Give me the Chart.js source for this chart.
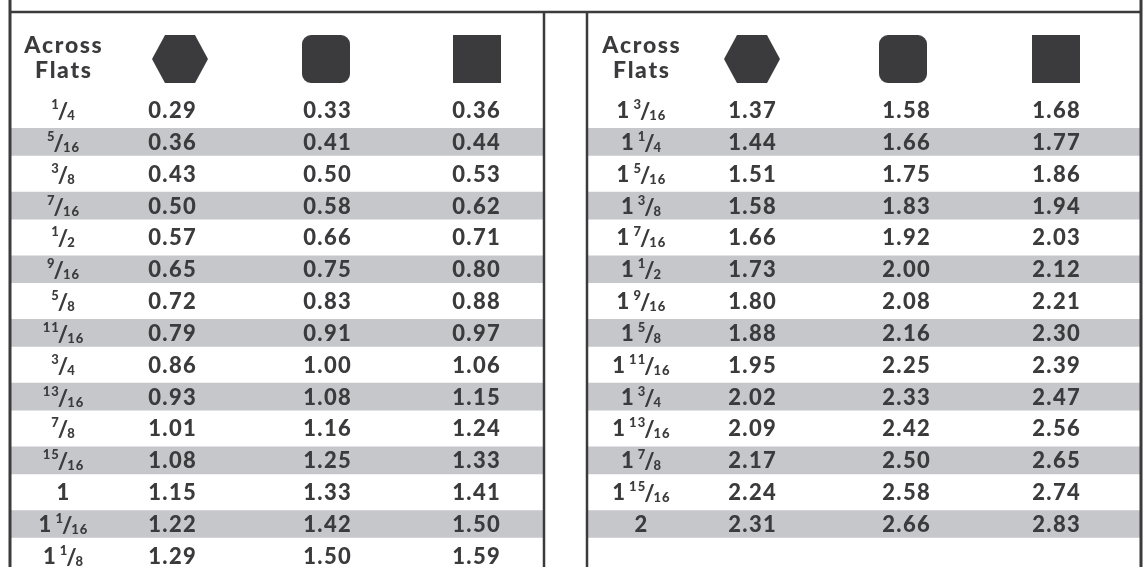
<!DOCTYPE html>
<html>
<head>
<meta charset="utf-8">
<script src="https://cdn.jsdelivr.net/npm/chart.js@4.4.1/dist/chart.umd.min.js"></script>
<style>
  html, body { margin: 0; padding: 0; background: #fff; }
  #wrap { width: 1148px; height: 567px; }
</style>
</head>
<body>
<div id="wrap"><canvas id="table"></canvas></div>
<script>
// across-flats size -> stock size for hex, rounded square and square bar
const leftFlats = ['1/4', '5/16', '3/8', '7/16', '1/2', '9/16', '5/8', '11/16', '3/4', '13/16', '7/8', '15/16', '1', '1 1/16', '1 1/8'];
const leftHex = [0.29, 0.36, 0.43, 0.50, 0.57, 0.65, 0.72, 0.79, 0.86, 0.93, 1.01, 1.08, 1.15, 1.22, 1.29];
const leftRound = [0.33, 0.41, 0.50, 0.58, 0.66, 0.75, 0.83, 0.91, 1.00, 1.08, 1.16, 1.25, 1.33, 1.42, 1.50];
const leftSquare = [0.36, 0.44, 0.53, 0.62, 0.71, 0.80, 0.88, 0.97, 1.06, 1.15, 1.24, 1.33, 1.41, 1.50, 1.59];

const rightFlats = ['1 3/16', '1 1/4', '1 5/16', '1 3/8', '1 7/16', '1 1/2', '1 9/16', '1 5/8', '1 11/16', '1 3/4', '1 13/16', '1 7/8', '1 15/16', '2'];
const rightHex = [1.37, 1.44, 1.51, 1.58, 1.66, 1.73, 1.80, 1.88, 1.95, 2.02, 2.09, 2.17, 2.24, 2.31];
const rightRound = [1.58, 1.66, 1.75, 1.83, 1.92, 2.00, 2.08, 2.16, 2.25, 2.33, 2.42, 2.50, 2.58, 2.66];
const rightSquare = [1.68, 1.77, 1.86, 1.94, 2.03, 2.12, 2.21, 2.30, 2.39, 2.47, 2.56, 2.65, 2.74, 2.83];

const headerWords = ['Across', 'Flats'];

// layout: x in canvas px, y in row units (row 0 = first data row)
const INK = '#3b3b3d';
const BAND = '#c6c7ca';
const colX = { lFlats: 63, lHex: 172, lRound: 327, lSquare: 476, rFlats: 641, rHex: 752, rRound: 906, rSquare: 1056 };
const iconX = { lHex: 180, lRound: 326, lSquare: 477, rHex: 752, rRound: 903, rSquare: 1056 };
const frame = { left: 10, mid1: 544, mid2: 587, right: 1141, top: -3.08 };
const HEAD_ACROSS = -2.04, HEAD_FLATS = -1.26, HEAD_ICON = -1.6;

const MAIN = '900 22px Lato';
const HEAD = '900 23px Lato';
const SMALL = '900 13px Lato';
const CAP = 16;

function makeIcon(kind) {
  const c = document.createElement('canvas');
  c.width = kind === 'hex' ? 56 : 48;
  c.height = 48;
  const g = c.getContext('2d');
  g.fillStyle = INK;
  g.beginPath();
  if (kind === 'hex') {
    g.moveTo(0, 24); g.lineTo(13, 0); g.lineTo(43, 0);
    g.lineTo(56, 24); g.lineTo(43, 48); g.lineTo(13, 48);
  } else if (kind === 'round') {
    g.roundRect(0, 0, 48, 48, 9);
  } else {
    g.rect(0, 0, 48, 48);
  }
  g.closePath();
  g.fill();
  return c;
}

function drawSpaced(ctx, text, cx, baseY, font, spacing) {
  ctx.font = font;
  const chars = [...text];
  const ws = chars.map(ch => ctx.measureText(ch).width);
  const total = ws.reduce((a, b) => a + b, 0) + spacing * (chars.length - 1);
  let x = cx - total / 2;
  chars.forEach((ch, k) => { ctx.fillText(ch, x, baseY); x += ws[k] + spacing; });
}

function drawFraction(ctx, label, cx, baseY) {
  let whole = label, frac = '';
  if (label.includes(' ')) [whole, frac] = label.split(' ');
  else if (label.includes('/')) [whole, frac] = ['', label];
  const [num, den] = frac ? frac.split('/') : ['', ''];
  ctx.font = MAIN;
  const wWhole = whole ? ctx.measureText(whole).width : 0;
  const wSlash = frac ? ctx.measureText('/').width : 0;
  ctx.font = SMALL;
  const wNum = num ? ctx.measureText(num).width + (num.length - 1) : 0;
  const wDen = den ? ctx.measureText(den).width + (den.length - 1) : 0;
  const gap = whole && frac ? 4 : 0;
  const kern = -1;
  const total = wWhole + gap + (frac ? wNum + wSlash + wDen + 2 * kern : 0);
  let x = cx - total / 2;
  if (whole) {
    ctx.font = MAIN;
    ctx.fillText(whole, x, baseY);
    x += wWhole + gap;
  }
  if (frac) {
    drawSpaced(ctx, num, x + wNum / 2, baseY - 9, SMALL, 1);
    x += wNum + kern;
    ctx.font = MAIN;
    ctx.fillText('/', x, baseY + 1);
    x += wSlash + kern;
    drawSpaced(ctx, den, x + wDen / 2, baseY + 2, SMALL, 1);
  }
}

const tablePlugin = {
  id: 'tableText',
  afterDatasetsDraw(chart) {
    const ctx = chart.ctx;
    const xs = chart.scales.x, ys = chart.scales.y;
    const px = v => xs.getPixelForValue(v);
    const top = ys.getPixelForValue(frame.top);
    const bottom = chart.chartArea.bottom;
    ctx.save();
    ctx.strokeStyle = INK;
    ctx.lineWidth = 2.5;
    ctx.beginPath();
    ctx.moveTo(px(frame.left), top); ctx.lineTo(px(frame.right), top);
    ctx.moveTo(px(frame.mid1), top); ctx.lineTo(px(frame.mid1), bottom);
    ctx.moveTo(px(frame.mid2), top); ctx.lineTo(px(frame.mid2), bottom);
    ctx.stroke();
    ctx.lineWidth = 3;
    ctx.beginPath();
    ctx.moveTo(px(frame.left), 0); ctx.lineTo(px(frame.left), bottom);
    ctx.moveTo(px(frame.right), 0); ctx.lineTo(px(frame.right), bottom);
    ctx.stroke();

    ctx.fillStyle = INK;
    ctx.textAlign = 'left';
    ctx.textBaseline = 'alphabetic';
    chart.data.datasets.forEach((ds, di) => {
      if (!ds.texts) return;
      const meta = chart.getDatasetMeta(di);
      meta.data.forEach((pt, i) => {
        const base = pt.y + CAP / 2;
        if (ds.kind === 'fraction') drawFraction(ctx, ds.texts[i], pt.x, base);
        else if (ds.kind === 'header') drawSpaced(ctx, ds.texts[i], pt.x, base, HEAD, ds.spacing);
        else drawSpaced(ctx, ds.texts[i], pt.x, base, MAIN, ds.spacing);
      });
    });
    ctx.restore();
  }
};

function cellSet(values, x) {
  return {
    type: 'scatter',
    data: values.map((_, i) => ({ x: x, y: i })),
    texts: values.map(v => typeof v === 'number' ? v.toFixed(2) : v),
    kind: typeof values[0] === 'number' ? 'value' : 'fraction',
    spacing: 1.4,
    pointRadius: 0
  };
}

function bandSet(rows, x0, x1) {
  return rows.map((_, i) => i).filter(i => i % 2 === 1).map(i => ({ y: i, x: [x0, x1] }));
}

const icons = { hex: makeIcon('hex'), round: makeIcon('round'), square: makeIcon('square') };

new Chart(document.getElementById('table'), {
  type: 'scatter',
  data: {
    datasets: [
      cellSet(leftFlats, colX.lFlats),
      cellSet(leftHex, colX.lHex),
      cellSet(leftRound, colX.lRound),
      cellSet(leftSquare, colX.lSquare),
      cellSet(rightFlats, colX.rFlats),
      cellSet(rightHex, colX.rHex),
      cellSet(rightRound, colX.rRound),
      cellSet(rightSquare, colX.rSquare),
      {
        type: 'scatter',
        data: [
          { x: colX.lFlats, y: HEAD_ACROSS }, { x: colX.lFlats, y: HEAD_FLATS },
          { x: colX.rFlats, y: HEAD_ACROSS }, { x: colX.rFlats, y: HEAD_FLATS }
        ],
        texts: headerWords.concat(headerWords),
        kind: 'header',
        spacing: 1.6,
        pointRadius: 0
      },
      {
        type: 'scatter',
        data: [
          { x: iconX.lHex, y: HEAD_ICON }, { x: iconX.lRound, y: HEAD_ICON }, { x: iconX.lSquare, y: HEAD_ICON },
          { x: iconX.rHex, y: HEAD_ICON }, { x: iconX.rRound, y: HEAD_ICON }, { x: iconX.rSquare, y: HEAD_ICON }
        ],
        pointStyle: [icons.hex, icons.round, icons.square, icons.hex, icons.round, icons.square],
        pointRadius: 5
      },
      {
        type: 'bar',
        indexAxis: 'y',
        data: bandSet(leftFlats, frame.left, frame.mid1).concat(bandSet(rightFlats, frame.mid2, frame.right)),
        backgroundColor: BAND,
        barThickness: 27,
        borderWidth: 0
      }
    ]
  },
  options: {
    responsive: true,
    maintainAspectRatio: false,
    animation: false,
    events: [],
    layout: { padding: 0, autoPadding: false },
    plugins: { legend: { display: false }, tooltip: { enabled: false } },
    scales: {
      x: { type: 'linear', display: false, min: 0, max: 1148, offset: false },
      y: { type: 'linear', display: false, min: -3.454, max: 14.349, reverse: true, offset: false }
    }
  },
  plugins: [tablePlugin]
});
</script>
</body>
</html>
